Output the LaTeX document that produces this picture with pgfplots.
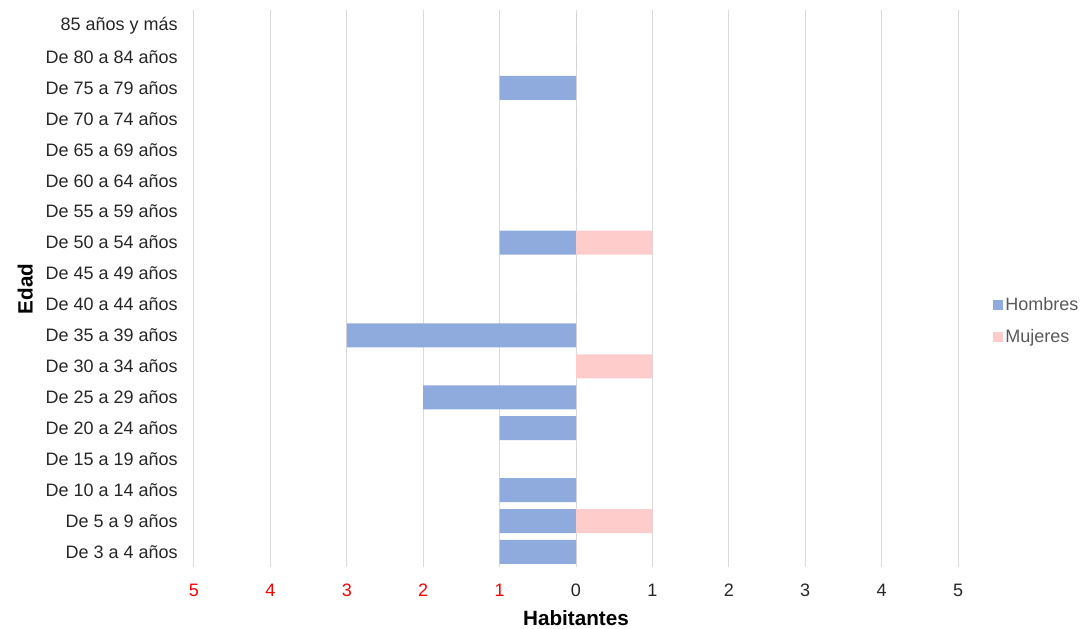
\documentclass[border=0pt]{standalone}
\usepackage{pgfplots}
\pgfplotsset{compat=1.18}
\usepackage{fontspec}
\setmainfont{Liberation Sans}
\definecolor{hombres}{HTML}{8FAADC}
\definecolor{mujeres}{HTML}{FFCCCC}
\definecolor{gridc}{HTML}{D9D9D9}
\definecolor{txt}{HTML}{262626}
\definecolor{legtxt}{HTML}{595959}
\begin{document}
\begin{tikzpicture}[x=1pt,y=1pt]
\useasboundingbox (-145.5,-45.4) rectangle (664.5,425.6);
\begin{axis}[
  at={(0,0)}, anchor=south west,
  scale only axis,
  width=573pt, height=417.75pt,
  xbar, bar width=18pt, bar shift=0pt,
  xmin=-5, xmax=5,
  ymin=-0.5, ymax=17.5,
  xtick={-5,-4,-3,-2,-1,0,1,2,3,4,5},
  xticklabels={\textcolor{red}{5},\textcolor{red}{4},\textcolor{red}{3},\textcolor{red}{2},\textcolor{red}{1},0,1,2,3,4,5},
  ytick={0,...,17},
  yticklabels={De 3 a 4 años,De 5 a 9 años,De 10 a 14 años,De 15 a 19 años,De 20 a 24 años,De 25 a 29 años,De 30 a 34 años,De 35 a 39 años,De 40 a 44 años,De 45 a 49 años,De 50 a 54 años,De 55 a 59 años,De 60 a 64 años,De 65 a 69 años,De 70 a 74 años,De 75 a 79 años,De 80 a 84 años,85 años y más},
  ticklabel style={font=\fontsize{13.5}{15}\selectfont, text=txt},
  yticklabel style={anchor=east, inner sep=0pt, xshift=-12pt},
  xticklabel style={anchor=center, inner sep=0pt, yshift=-16.9pt},
  major tick length=0pt,
  axis line style={draw=none},
  xmajorgrids, grid style={gridc, line width=0.75pt},
  xlabel={\textbf{Habitantes}},
  ylabel={\textbf{Edad}},
  label style={font=\fontsize{15.5}{17}\selectfont, text=black},
  xlabel style={at={(axis description cs:0.5,0)}, anchor=center, yshift=-37.9pt},
  ylabel style={at={(axis description cs:-0.221,0.5)}, anchor=center},
  legend cell align=left,
  legend style={at={(axis description cs:1.0458,0.4425)}, anchor=west, draw=none, fill=none,
    font=\fontsize{13.5}{15}\selectfont, text=legtxt, row sep=10pt, inner sep=0pt,
    nodes={inner sep=1.5pt}},
  legend image code/.code={\fill[#1] (0pt,-3.75pt) rectangle (7.5pt,3.75pt);},
]
\addplot[draw=none, fill=hombres] coordinates {
  (-1,0) (-1,1) (-1,2) (0,3) (-1,4) (-2,5) (0,6) (-3,7) (0,8) (0,9) (-1,10) (0,11) (0,12) (0,13) (0,14) (-1,15) (0,16) (0,17)};
\addlegendentry{Hombres}
\addplot[draw=none, fill=mujeres] coordinates {
  (0,0) (1,1) (0,2) (0,3) (0,4) (0,5) (1,6) (0,7) (0,8) (0,9) (1,10) (0,11) (0,12) (0,13) (0,14) (0,15) (0,16) (0,17)};
\addlegendentry{Mujeres}
\end{axis}
\end{tikzpicture}
\end{document}
